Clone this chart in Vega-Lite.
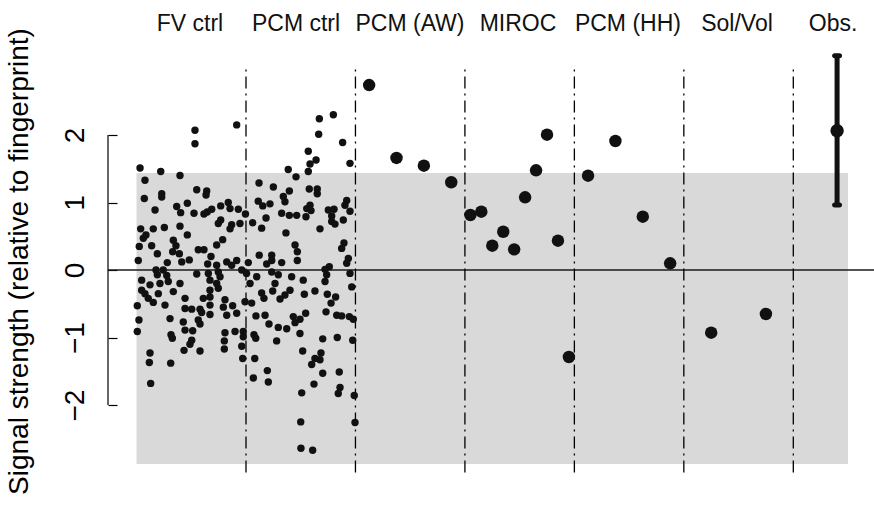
{
  "$schema": "https://vega.github.io/schema/vega-lite/v6.json",
  "width": 766,
  "height": 506,
  "autosize": {"type": "none"},
  "padding": {"left": 108, "top": 0, "right": 0, "bottom": 0},
  "background": "white",
  "config": {"view": {"stroke": null}, "font": "Liberation Sans"},
  "datasets": {
    "ctrl": [
      {"x":0.534,"y":2.07},{"x":0.534,"y":1.87},{"x":0.915,"y":2.15},{"x":0.032,"y":1.51},{"x":0.221,"y":1.46},{"x":0.397,"y":1.40},{"x":0.077,"y":1.33},{"x":0.550,"y":1.19},{"x":0.641,"y":1.17},{"x":0.635,"y":1.11},{"x":0.230,"y":1.13},{"x":0.230,"y":1.08},{"x":0.071,"y":1.06},{"x":0.464,"y":0.99},{"x":0.367,"y":0.94},{"x":0.169,"y":0.89},{"x":0.403,"y":0.85},{"x":0.525,"y":0.84},{"x":0.616,"y":0.83},{"x":0.646,"y":0.86},{"x":0.687,"y":0.90},{"x":0.769,"y":0.95},{"x":0.838,"y":1.00},{"x":0.854,"y":0.91},{"x":0.930,"y":0.90},{"x":0.995,"y":0.83},{"x":0.769,"y":0.74},{"x":0.747,"y":0.69},{"x":0.869,"y":0.67},{"x":0.945,"y":0.69},{"x":0.854,"y":0.61},{"x":0.038,"y":0.61},{"x":0.153,"y":0.61},{"x":0.254,"y":0.63},{"x":0.397,"y":0.65},{"x":0.086,"y":0.52},{"x":0.464,"y":0.52},{"x":0.062,"y":0.47},{"x":0.336,"y":0.44},{"x":0.787,"y":0.45},{"x":0.025,"y":0.35},{"x":0.138,"y":0.36},{"x":0.360,"y":0.36},{"x":0.732,"y":0.37},{"x":0.330,"y":0.27},{"x":0.190,"y":0.24},{"x":0.391,"y":0.24},{"x":0.564,"y":0.30},{"x":0.616,"y":0.30},{"x":0.680,"y":0.20},{"x":0.016,"y":0.14},{"x":0.281,"y":0.11},{"x":0.413,"y":0.12},{"x":0.482,"y":0.15},{"x":0.650,"y":0.09},{"x":0.732,"y":0.07},{"x":0.824,"y":0.12},{"x":0.915,"y":0.14},{"x":0.869,"y":0.07},{"x":0.961,"y":0.00},{"x":0.178,"y":0.00},{"x":0.244,"y":0.00},{"x":0.550,"y":-0.06},{"x":0.656,"y":-0.05},{"x":0.747,"y":-0.03},{"x":0.763,"y":-0.10},{"x":0.190,"y":-0.07},{"x":0.276,"y":-0.08},{"x":0.047,"y":-0.15},{"x":0.123,"y":-0.22},{"x":0.214,"y":-0.20},{"x":0.290,"y":-0.17},{"x":0.397,"y":-0.20},{"x":0.671,"y":-0.15},{"x":0.732,"y":-0.20},{"x":0.747,"y":-0.27},{"x":0.047,"y":-0.30},{"x":0.077,"y":-0.35},{"x":0.199,"y":-0.35},{"x":0.336,"y":-0.32},{"x":0.671,"y":-0.30},{"x":0.107,"y":-0.42},{"x":0.153,"y":-0.48},{"x":0.443,"y":-0.42},{"x":0.610,"y":-0.42},{"x":0.671,"y":-0.40},{"x":0.808,"y":-0.44},{"x":0.991,"y":-0.47},{"x":0.007,"y":-0.53},{"x":0.260,"y":-0.52},{"x":0.443,"y":-0.57},{"x":0.504,"y":-0.58},{"x":0.580,"y":-0.58},{"x":0.671,"y":-0.52},{"x":0.793,"y":-0.55},{"x":0.878,"y":-0.53},{"x":0.595,"y":-0.63},{"x":0.671,"y":-0.66},{"x":0.824,"y":-0.67},{"x":0.915,"y":-0.64},{"x":0.022,"y":-0.74},{"x":0.306,"y":-0.72},{"x":0.427,"y":-0.77},{"x":0.564,"y":-0.74},{"x":0.580,"y":-0.80},{"x":0.007,"y":-0.91},{"x":0.443,"y":-0.89},{"x":0.513,"y":-0.90},{"x":0.315,"y":-0.96},{"x":0.327,"y":-1.01},{"x":0.808,"y":-0.93},{"x":0.900,"y":-0.91},{"x":0.975,"y":-0.91},{"x":0.802,"y":-1.05},{"x":0.975,"y":-0.99},{"x":0.504,"y":-1.04},{"x":0.488,"y":-1.10},{"x":0.961,"y":-1.13},{"x":0.434,"y":-1.19},{"x":0.580,"y":-1.20},{"x":0.802,"y":-1.17},{"x":0.123,"y":-1.23},{"x":0.117,"y":-1.37},{"x":0.312,"y":-1.38},{"x":0.970,"y":-1.31},{"x":0.129,"y":-1.68},
      {"x":1.670,"y":2.24},{"x":1.798,"y":2.30},{"x":1.664,"y":2.01},{"x":1.883,"y":1.89},{"x":1.569,"y":1.76},{"x":1.640,"y":1.63},{"x":1.585,"y":1.57},{"x":1.950,"y":1.58},{"x":1.386,"y":1.49},{"x":1.569,"y":1.46},{"x":1.457,"y":1.38},{"x":1.119,"y":1.29},{"x":1.250,"y":1.23},{"x":1.396,"y":1.17},{"x":1.578,"y":1.20},{"x":1.651,"y":1.20},{"x":1.651,"y":1.13},{"x":1.341,"y":1.09},{"x":1.356,"y":1.01},{"x":1.112,"y":1.02},{"x":1.153,"y":0.95},{"x":1.219,"y":0.98},{"x":1.920,"y":1.03},{"x":1.904,"y":0.96},{"x":1.585,"y":0.96},{"x":1.555,"y":0.91},{"x":1.594,"y":0.88},{"x":1.548,"y":0.79},{"x":1.752,"y":0.89},{"x":1.804,"y":0.90},{"x":1.950,"y":0.87},{"x":1.326,"y":0.84},{"x":1.396,"y":0.81},{"x":1.463,"y":0.81},{"x":1.783,"y":0.80},{"x":1.183,"y":0.77},{"x":1.783,"y":0.72},{"x":1.813,"y":0.68},{"x":1.889,"y":0.74},{"x":1.061,"y":0.70},{"x":1.143,"y":0.62},{"x":1.676,"y":0.61},{"x":1.365,"y":0.55},{"x":1.448,"y":0.37},{"x":1.469,"y":0.27},{"x":1.895,"y":0.40},{"x":1.874,"y":0.32},{"x":1.469,"y":0.14},{"x":1.121,"y":0.22},{"x":1.235,"y":0.22},{"x":1.189,"y":0.09},{"x":1.235,"y":0.14},{"x":1.326,"y":0.11},{"x":1.021,"y":0.11},{"x":1.935,"y":0.17},{"x":1.920,"y":0.10},{"x":1.761,"y":0.05},{"x":1.722,"y":0.01},
      {"x":1.005,"y":-0.05},{"x":1.098,"y":-0.10},{"x":1.235,"y":-0.03},{"x":1.295,"y":-0.07},{"x":1.417,"y":-0.10},{"x":1.523,"y":-0.15},{"x":1.737,"y":-0.07},{"x":1.722,"y":-0.17},{"x":1.950,"y":-0.05},{"x":1.037,"y":-0.20},{"x":1.265,"y":-0.20},{"x":1.244,"y":-0.31},{"x":1.143,"y":-0.34},{"x":1.164,"y":-0.42},{"x":1.402,"y":-0.30},{"x":1.356,"y":-0.37},{"x":1.311,"y":-0.43},{"x":1.533,"y":-0.36},{"x":1.630,"y":-0.31},{"x":1.743,"y":-0.36},{"x":1.819,"y":-0.40},{"x":1.777,"y":-0.49},{"x":1.966,"y":-0.25},{"x":1.052,"y":-0.49},{"x":1.091,"y":-0.68},{"x":1.174,"y":-0.67},{"x":1.210,"y":-0.80},{"x":1.295,"y":-0.85},{"x":1.372,"y":-0.87},{"x":1.432,"y":-0.69},{"x":1.448,"y":-0.78},{"x":1.493,"y":-0.73},{"x":1.545,"y":-0.64},{"x":1.493,"y":-0.94},{"x":1.731,"y":-0.62},{"x":1.829,"y":-0.67},{"x":1.874,"y":-0.68},{"x":1.944,"y":-0.69},{"x":1.980,"y":-0.73},{"x":1.073,"y":-0.96},{"x":1.089,"y":-1.01},{"x":1.280,"y":-1.05},{"x":1.701,"y":-1.02},{"x":1.834,"y":-1.00},{"x":1.975,"y":-1.04},{"x":1.080,"y":-1.31},{"x":1.518,"y":-1.20},{"x":1.685,"y":-1.23},{"x":1.630,"y":-1.31},{"x":1.676,"y":-1.33},{"x":1.600,"y":-1.40},{"x":1.701,"y":-1.53},{"x":1.852,"y":-1.51},{"x":1.195,"y":-1.49},{"x":1.067,"y":-1.60},{"x":1.204,"y":-1.66},{"x":1.621,"y":-1.69},{"x":1.859,"y":-1.74},{"x":1.843,"y":-1.83},{"x":1.509,"y":-1.82},{"x":1.989,"y":-1.86},{"x":1.500,"y":-2.25},{"x":1.996,"y":-2.26},{"x":1.502,"y":-2.64},{"x":1.609,"y":-2.67}
    ],
    "models": [
      {"x":2.125,"y":2.74},{"x":2.375,"y":1.66},{"x":2.625,"y":1.545},{"x":2.875,"y":1.30},
      {"x":3.05,"y":0.815},{"x":3.15,"y":0.864},{"x":3.25,"y":0.36},{"x":3.35,"y":0.567},{"x":3.45,"y":0.306},{"x":3.55,"y":1.077},{"x":3.65,"y":1.477},{"x":3.75,"y":2.005},{"x":3.85,"y":0.434},{"x":3.95,"y":-1.289},
      {"x":4.125,"y":1.397},{"x":4.375,"y":1.911},{"x":4.625,"y":0.79},{"x":4.875,"y":0.099},
      {"x":5.25,"y":-0.929},{"x":5.75,"y":-0.652}
    ],
    "band": [{"x":0,"x2":6.5,"y":-2.874,"y2":1.437}],
    "zero": [{"x":-0.2607,"x2":6.7373,"y":0}],
    "ydom": [{"x":-0.2607,"y":-2,"y2":2}],
    "seps": [{"x":1,"y":-3,"y2":3},{"x":2,"y":-3,"y2":3},{"x":3,"y":-3,"y2":3},{"x":4,"y":-3,"y2":3},{"x":5,"y":-3,"y2":3},{"x":6,"y":-3,"y2":3}],
    "obsbar": [{"x":6.4,"y":0.963,"y2":3.175}],
    "obscaps": [{"x":6.4,"y":0.963},{"x":6.4,"y":3.175}],
    "obspt": [{"x":6.4,"y":2.064}],
    "labels": [
      {"x":0.488,"y":3.54,"label":"FV ctrl"},{"x":1.457,"y":3.54,"label":"PCM ctrl"},{"x":2.498,"y":3.54,"label":"PCM (AW)"},{"x":3.485,"y":3.54,"label":"MIROC"},{"x":4.489,"y":3.54,"label":"PCM (HH)"},{"x":5.486,"y":3.54,"label":"Sol/Vol"},{"x":6.363,"y":3.54,"label":"Obs."}
    ]
  },
  "encoding": {
    "x": {"field": "x", "type": "quantitative", "scale": {"domain": [-0.2607, 6.7373], "nice": false, "zero": false}, "axis": null},
    "y": {"field": "y", "type": "quantitative", "scale": {"domain": [-3.496, 4.0], "nice": false, "zero": false},
      "title": "Signal strength (relative to fingerprint)",
      "axis": {"values": [-2,-1,0,1,2], "format": "d", "domain": false, "grid": false, "tickSize": -9, "tickWidth": 1.2, "tickColor": "black",
        "labelAngle": -90, "labelAlign": "center", "labelBaseline": "alphabetic", "labelPadding": 34, "labelFontSize": 28, "labelColor": "black", "labelOverlap": false, "labelFlush": false, "labelBound": false,
        "titleFontSize": 28, "titleFontWeight": "normal", "titleColor": "black", "titleAngle": -90, "titleAlign": "center", "titleBaseline": "alphabetic", "titleX": -81, "titleY": 261}}
  },
  "layer": [
    {"data": {"name": "band"}, "mark": {"type": "rect", "color": "#d9d9d9"}, "encoding": {"x2": {"field": "x2"}, "y2": {"field": "y2"}}},
    {"data": {"name": "zero"}, "mark": {"type": "rule", "color": "#1a1a1a", "strokeWidth": 1.6}, "encoding": {"x2": {"field": "x2"}}},
    {"data": {"name": "ydom"}, "mark": {"type": "rule", "color": "black", "strokeWidth": 1.2}, "encoding": {"y2": {"field": "y2"}}},
    {"data": {"name": "seps"}, "mark": {"type": "rule", "color": "black", "strokeWidth": 1.3, "strokeDash": [12, 5, 2, 5]}, "encoding": {"y2": {"field": "y2"}}},
    {"data": {"name": "ctrl"}, "mark": {"type": "circle", "size": 55, "color": "#111111", "opacity": 1}, "encoding": {}},
    {"data": {"name": "models"}, "mark": {"type": "circle", "size": 155, "color": "#111111", "opacity": 1}, "encoding": {}},
    {"data": {"name": "obsbar"}, "mark": {"type": "rule", "color": "#111111", "strokeWidth": 5}, "encoding": {"y2": {"field": "y2"}}},
    {"data": {"name": "obscaps"}, "mark": {"type": "tick", "orient": "horizontal", "color": "#111111", "size": 10, "thickness": 5, "cornerRadius": 2.5, "opacity": 1}, "encoding": {}},
    {"data": {"name": "obspt"}, "mark": {"type": "circle", "size": 180, "color": "#111111", "opacity": 1}, "encoding": {}},
    {"data": {"name": "labels"}, "mark": {"type": "text", "fontSize": 23, "color": "#111111", "align": "center", "baseline": "alphabetic"}, "encoding": {"text": {"field": "label"}}}
  ]
}
